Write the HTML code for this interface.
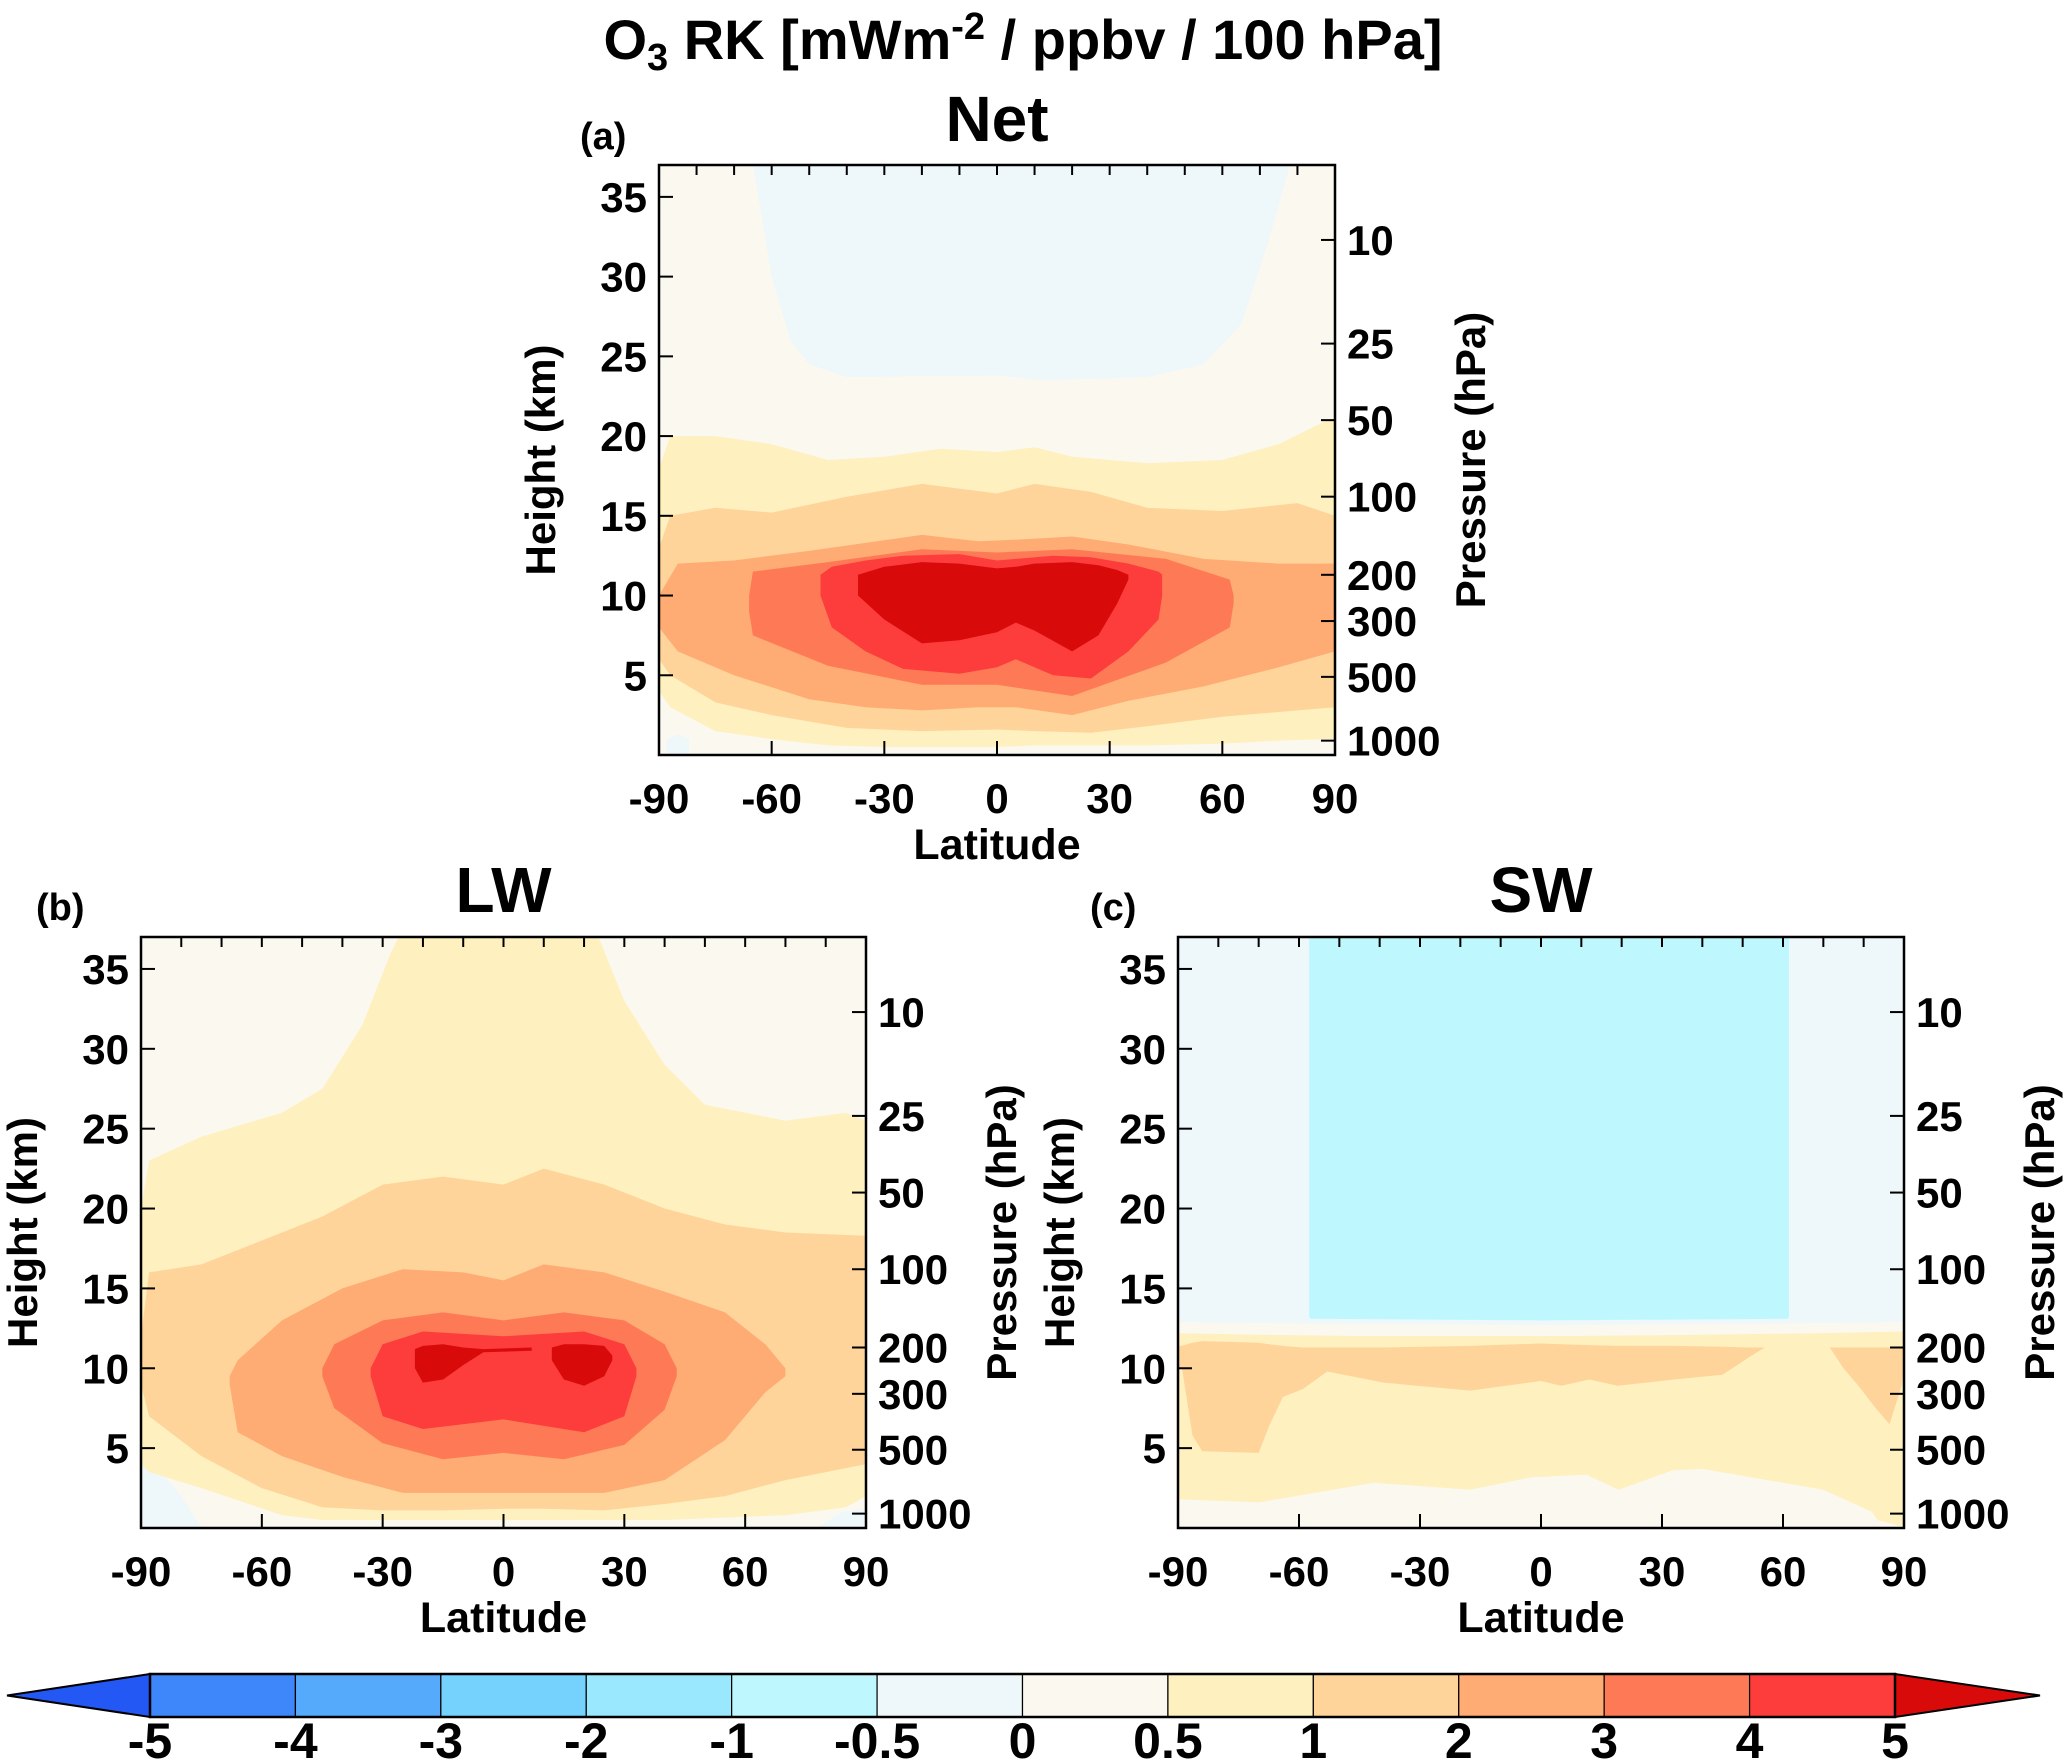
<!DOCTYPE html>
<html>
<head>
<meta charset="utf-8">
<style>
  html,body{margin:0;padding:0;background:#fff;}
  svg{display:block;font-family:"Liberation Sans",Arial,sans-serif;font-weight:bold;}
</style>
</head>
<body>
<svg id="fig" width="2067" height="1764" viewBox="0 0 2067 1764" xmlns="http://www.w3.org/2000/svg">
  <text x="1023" y="59" text-anchor="middle" font-size="56">O<tspan font-size="38" dy="11">3</tspan><tspan dy="-11"> RK [mWm</tspan><tspan font-size="38" dy="-20">-2</tspan><tspan dy="20"> / ppbv / 100 hPa]</tspan></text>
  <g id="panels"></g>
  <g id="colorbar"></g>
</svg>
<script>
// ---- colour scale data ----
const levels = [-5,-4,-3,-2,-1,-0.5,0,0.5,1,2,3,4,5];
const bandColors = ["#3d87fa","#56aafc","#75d2fd","#9ae8fd","#bef8fe","#eef7fa","#fbf8f0","#fff0c0","#fed49a","#feab74","#fe7a56","#fd3c3c"];
const underColor = "#2458f5";
const overColor = "#d90a0a";
const latTicks = [-90,-60,-30,0,30,60,90];
const heightTicks = [5,10,15,20,25,30,35];
const pressureLabels = ["10","25","50","100","200","300","500","1000"];
const pressureHeights = [32.3,25.8,21,16.2,11.3,8.4,4.9,0.9];

// ---- Net panel regions (value lower bound, lats, top km, bottom km) ----
const netRegions = [
  {lo:-0.5, lats:[-88,-85,-82], top:[1,1.3,1], bottom:[0,0,0]},
  {lo:-0.5, lats:[-65,-60,-55,-50,-40,0,12,40,55,65,72,78], top:[37,37,37,37,37,37,37,37,37,37,37,37], bottom:[37,30,26,24.5,23.7,23.8,23.5,23.7,24.5,27,32,37]},
  {lo:0.5, lats:[-90,-87,-75,-60,-45,-30,-15,0,10,20,40,60,75,88,90], top:[18,20,20,19.5,18.5,18.7,19.2,19,19.3,18.7,18.3,18.5,19.5,21,21], bottom:[4,3,1.5,1,0.6,0.5,0.5,0.5,0.6,0.6,0.6,0.7,0.9,1,1]},
  {lo:1, lats:[-90,-87,-75,-60,-40,-20,0,10,25,40,60,80,90], top:[13,15,15.5,15.2,16.2,17,16.4,17,16.5,15.5,15.3,15.8,15], bottom:[6,5,3.3,2.5,1.7,1.5,1.6,1.5,1.4,1.8,2.4,2.8,3]},
  {lo:2, lats:[-90,-85,-70,-50,-35,-20,-5,5,20,35,55,75,90], top:[10,12,12.2,12.8,13.3,13.8,13.4,13.5,13.7,13.2,12.3,12,12], bottom:[8,6.5,5,3.5,3,2.8,3,3,2.5,3.4,4.3,5.5,6.5]},
  {lo:3, lats:[-66,-65,-45,-20,0,20,45,62,63], top:[10,11.5,12.1,12.9,12.7,12.9,12.3,11,10], bottom:[9,7.5,5.6,4.4,4.4,3.7,5.8,8,9.5]},
  {lo:4, lats:[-47,-44,-35,-25,-10,0,5,15,25,35,43,44], top:[11.3,11.8,12.2,12.5,12.6,12.2,12.3,12.5,12.4,12,11.5,11.3], bottom:[10,8,6.5,5.4,5.1,5.5,6,5,4.8,6.5,8.5,10]},
  {lo:5, lats:[-37,-30,-20,-10,0,5,10,20,27,32,35], top:[11.3,11.8,12.1,12,11.7,11.8,12,12.1,11.9,11.6,11.3], bottom:[10,8.5,7,7.2,7.7,8.3,7.8,6.5,7.5,9.5,11]}
];

// ---- LW panel regions ----
const lwRegions = [
  {lo:-0.5, lats:[-90,-85,-80,-75], top:[4,3.5,2,0], bottom:[0,0,0,0]},
  {lo:-0.5, lats:[78,84,90], top:[0,1,1.2], bottom:[0,0,0]},
  {lo:0.5, lats:[-90,-88,-75,-55,-45,-35,-28,-24,22,30,40,50,70,85,90], top:[20,23,24.5,26,27.5,31.5,36,38,38,33,29,26.5,25.5,26,25.5], bottom:[4,3.5,2.5,0.8,0.5,0.5,0.5,0.5,0.5,0.5,0.5,0.6,0.8,1.3,2]},
  {lo:1, lats:[-90,-88,-75,-60,-45,-30,-15,0,10,25,40,55,70,90], top:[12,16,16.5,18,19.5,21.5,22,21.5,22.5,21.5,20,19,18.5,18.3], bottom:[9,7,4.5,2.5,1.3,1.1,1.1,1.2,1.2,1.1,1.5,2,3,4]},
  {lo:2, lats:[-68,-66,-55,-40,-25,-10,0,10,25,40,55,65,70], top:[9.5,10.5,13,15,16.2,16,15.5,16.5,16,14.8,13.5,11.5,10], bottom:[9,6,4.5,3.2,2.2,2.2,2.2,2.2,2.2,3,5.5,8.5,9.5]},
  {lo:3, lats:[-45,-42,-30,-15,0,15,30,40,43], top:[10,11.5,13,13.5,13,13.5,13,11.5,10], bottom:[9.5,7.5,5.3,4.3,4.7,4.3,5.2,7.4,9.5]},
  {lo:4, lats:[-33,-30,-20,0,20,30,33], top:[10,11.5,12.3,12,12.3,11.5,10], bottom:[9.5,7,6.2,6.8,6,7,9.5]},
  {lo:5, lats:[-22,-20,-15,-10,-5,7], top:[11.2,11.4,11.5,11.3,11.2,11.3], bottom:[10,9.1,9.3,10.2,11,11.1]},
  {lo:5, lats:[12,15,20,25,27], top:[11.3,11.5,11.5,11.4,10.8], bottom:[10.5,9.3,8.9,9.5,10.5]}
];

// ---- SW panel regions ----
const swRegions = [
  {lo:-0.5, lats:[-90,-60,0,60,90], top:[38,38,38,38,38], bottom:[12.9,12.8,12.7,12.8,12.9]},
  {lo:-1, lats:[-57.5,-57.3,0,61.3,61.5], top:[38,38,38,38,38], bottom:[13.3,13.1,13.0,13.1,13.3]},
  {lo:0.5, lats:[-90,-70,-40,0,40,70,90], top:[12.2,12.1,12.0,12.0,12.1,12.2,12.3], bottom:[1.8,1.6,2.9,3.2,3.7,2.4,0.1]},
  {lo:0.5, lats:[-89,-86.4,-80.5,-74.6,-69.8,-68.6,-63.9,-53.2,-44.9,-17.5,-2.1,9.8,19.3,33.6,50.2,64.4,71.6,79.9,83.4,89.4], top:[12,12,12,12,12,12,12,12,12,12,12,12,12,12,12,12,12,12,12,12], bottom:[1.8,2.6,2.6,2.6,2.2,1.6,3.0,3.8,2.9,2.4,3.2,3.5,2.4,3.7,3.7,3.6,2.4,1.8,0.5,0.1]},
  {lo:1, lats:[-90,-89,-86.4,-84,-70,-67.4,-64,-59,-53,-47,-39,-17.5,0,5,12,19,33,45,51,55.5], top:[11.4,11.4,11.6,11.7,11.6,11.5,11.4,11.3,11.3,11.3,11.3,11.4,11.55,11.5,11.45,11.4,11.4,11.35,11.3,11.3], bottom:[10,10,5.8,4.8,4.7,6.4,8.2,8.7,9.8,9.5,9.1,8.6,9.2,8.9,9.3,8.9,9.3,9.6,10.6,11.3]},
  {lo:1, lats:[71.6,75,78.7,83,86.4,89.4,90], top:[11.3,11.3,11.3,11.3,11.3,11.3,11.3], bottom:[11.3,10,8.9,7.5,6.5,8.9,10]}
];

const NS = "http://www.w3.org/2000/svg";
function mk(tag, attrs, parent){
  const e = document.createElementNS(NS, tag);
  for (const k in attrs) e.setAttribute(k, attrs[k]);
  if (parent) parent.appendChild(e);
  return e;
}
function colorFor(lo){
  const i = levels.indexOf(lo);
  if (i === levels.length-1) return overColor;
  return bandColors[i];
}

const panelDefs = [
  {key:"net", label:"(a)", title:"Net", x0:659, x1:1335, y0:165, y1:755, regions:netRegions, labelX:580, titleY:141},
  {key:"lw", label:"(b)", title:"LW", x0:141, x1:866, y0:937, y1:1528, regions:lwRegions, labelX:36, titleY:912},
  {key:"sw", label:"(c)", title:"SW", x0:1178, x1:1904, y0:937, y1:1528, regions:swRegions, labelX:1090, titleY:912}
];
const KM_TOP = 37;
const root = document.getElementById("panels");

panelDefs.forEach(p => {
  const xs = lat => p.x0 + (lat + 90) / 180 * (p.x1 - p.x0);
  const ys = km => p.y1 - km / KM_TOP * (p.y1 - p.y0);
  const g = mk("g", {}, root);
  
  
  const clip = mk("clipPath", {id:"clip-" + p.key}, g);
  mk("rect", {x:p.x0, y:p.y0, width:p.x1-p.x0, height:p.y1-p.y0}, clip);
  const plot = mk("g", {"clip-path":"url(#clip-" + p.key + ")"}, g);
  
  
  const bg = mk("rect", {x:p.x0, y:p.y0, width:p.x1-p.x0, height:p.y1-p.y0, fill:colorFor(0)}, plot);
  
  
  p.regions.forEach(r => {
    const pts = [];
    for (let i = 0; i < r.lats.length; i++) pts.push(xs(r.lats[i]).toFixed(1) + "," + ys(r.top[i]).toFixed(1));
    for (let i = r.lats.length - 1; i >= 0; i--) pts.push(xs(r.lats[i]).toFixed(1) + "," + ys(r.bottom[i]).toFixed(1));
    const poly = mk("polygon", {points:pts.join(" "), fill:colorFor(r.lo)}, plot);
    
    
  });
  const frame = mk("rect", {x:p.x0, y:p.y0, width:p.x1-p.x0, height:p.y1-p.y0, fill:"none", stroke:"#000", "stroke-width":2.5}, g);
  
  
  for (let lat = -80; lat <= 80; lat += 10) {
    const t = mk("line", {x1:xs(lat), x2:xs(lat), y1:p.y0, y2:p.y0+10, stroke:"#000", "stroke-width":2}, g);
    
    
  }
  latTicks.forEach(lat => {
    const t = mk("line", {x1:xs(lat), x2:xs(lat), y1:p.y1, y2:p.y1-14, stroke:"#000", "stroke-width":2}, g);
    
    
    const tx = mk("text", {x:xs(lat), y:p.y1+58, "text-anchor":"middle", "font-size":42}, g);
    tx.textContent = String(lat);
    
    
  });
  heightTicks.forEach(km => {
    const t = mk("line", {x1:p.x0, x2:p.x0+14, y1:ys(km), y2:ys(km), stroke:"#000", "stroke-width":2}, g);
    
    
    const tx = mk("text", {x:p.x0-12, y:ys(km)+15, "text-anchor":"end", "font-size":42}, g);
    tx.textContent = String(km);
    
    
  });
  pressureHeights.forEach((km, i) => {
    const t = mk("line", {x1:p.x1, x2:p.x1-14, y1:ys(km), y2:ys(km), stroke:"#000", "stroke-width":2}, g);
    
    
    const tx = mk("text", {x:p.x1+12, y:ys(km)+15, "text-anchor":"start", "font-size":42}, g);
    tx.textContent = pressureLabels[i];
    
    
  });
  const cx = (p.x0 + p.x1) / 2, cy = (p.y0 + p.y1) / 2;
  const xt = mk("text", {x:cx, y:p.y1+104, "text-anchor":"middle", "font-size":43}, g);
  xt.textContent = "Latitude";
  
  
  const ytx = p.x0 - 104;
  const yt = mk("text", {x:ytx, y:cy, "text-anchor":"middle", "font-size":42, transform:"rotate(-90 " + ytx + " " + cy + ")"}, g);
  yt.textContent = "Height (km)";
  
  
  const ptx = p.x1 + 150;
  const pt = mk("text", {x:ptx, y:cy, "text-anchor":"middle", "font-size":42, transform:"rotate(-90 " + ptx + " " + cy + ")"}, g);
  pt.textContent = "Pressure (hPa)";
  
  
  const ti = mk("text", {x:cx, y:p.titleY, "text-anchor":"middle", "font-size":64}, g);
  ti.textContent = p.title;
  
  
  const lb = mk("text", {x:p.labelX, y:p.titleY+8, "text-anchor":"start", "font-size":38}, g);
  lb.textContent = p.label;
  
  
});

// ---- colorbar ----
const cb = document.getElementById("colorbar");
const cbX0 = 150, cbX1 = 1895, cbY0 = 1674, cbY1 = 1717, tipL = 7, tipR = 2040;
const bw = (cbX1 - cbX0) / bandColors.length;
const cym = (cbY0 + cbY1) / 2;
const la = mk("polygon", {points:`${cbX0},${cbY0} ${tipL},${cym} ${cbX0},${cbY1}`, fill:underColor, stroke:"#000", "stroke-width":2}, cb);


const ra = mk("polygon", {points:`${cbX1},${cbY0} ${tipR},${cym} ${cbX1},${cbY1}`, fill:overColor, stroke:"#000", "stroke-width":2}, cb);


bandColors.forEach((c, i) => {
  const r = mk("rect", {x:cbX0 + i*bw, y:cbY0, width:bw, height:cbY1-cbY0, fill:c, stroke:"#000", "stroke-width":1.2}, cb);
  
  
});
const cbf = mk("rect", {x:cbX0, y:cbY0, width:cbX1-cbX0, height:cbY1-cbY0, fill:"none", stroke:"#000", "stroke-width":2.5}, cb);


levels.forEach((v, i) => {
  const t = mk("text", {x:cbX0 + i*bw, y:1758, "text-anchor":"middle", "font-size":50}, cb);
  t.textContent = String(v);
  
  
});
</script>
</body>
</html>
